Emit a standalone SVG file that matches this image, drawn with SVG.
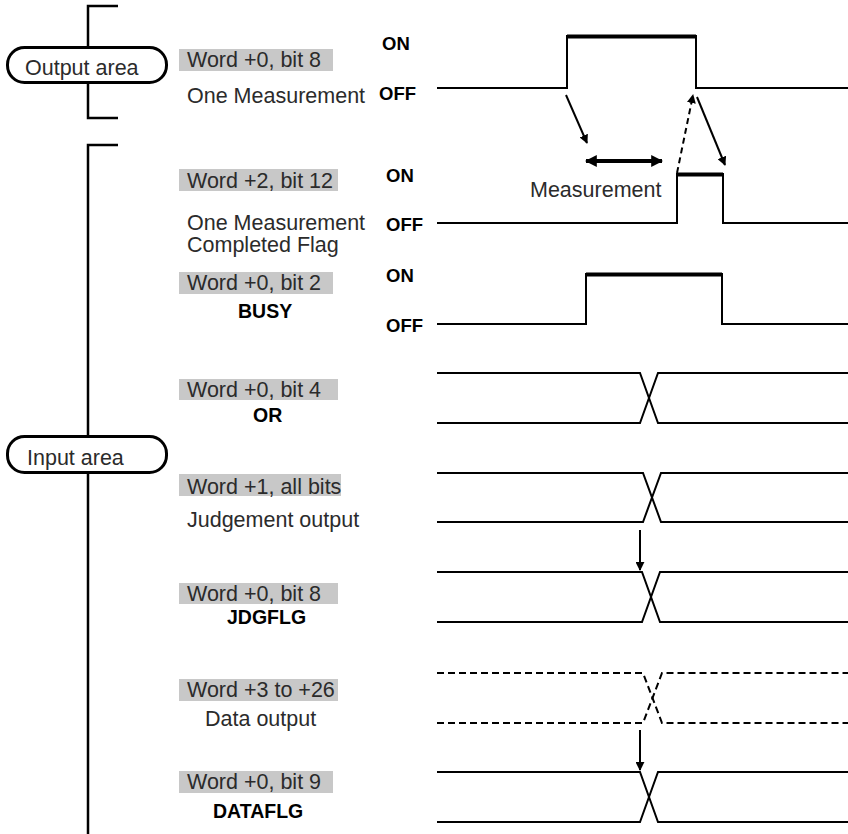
<svg xmlns="http://www.w3.org/2000/svg" width="848" height="834" viewBox="0 0 848 834">
<defs>
<marker id="ah" viewBox="0 0 10 10" refX="9" refY="5" markerWidth="9" markerHeight="9" markerUnits="userSpaceOnUse" orient="auto-start-reverse">
<path d="M0,0 L10,5 L0,10 Z" fill="#000"/>
</marker>
<marker id="ah2" viewBox="0 0 10 10" refX="9" refY="5" markerWidth="12" markerHeight="12" markerUnits="userSpaceOnUse" orient="auto-start-reverse">
<path d="M0,0 L10,5 L0,10 Z" fill="#000"/>
</marker>
</defs>
<style>
.lbl{font-family:"Liberation Sans",Arial,sans-serif;font-size:21.5px;fill:#2b2b2b}
.bold{font-family:"Liberation Sans",Arial,sans-serif;font-size:19.5px;font-weight:bold;fill:#000}
.st{font-family:"Liberation Sans",Arial,sans-serif;font-size:18.5px;font-weight:bold;fill:#000}
.box{fill:#c8c8c8}
.wave{fill:none;stroke:#000;stroke-width:2}
.top{stroke:#000;stroke-width:4}
.dash{fill:none;stroke:#000;stroke-width:2;stroke-dasharray:7,4}
.brk{fill:none;stroke:#000;stroke-width:2.5}
.pill{fill:#fff;stroke:#000;stroke-width:3}
.arr{fill:none;stroke:#000;stroke-width:2}
</style>
<rect width="848" height="834" fill="#fff"/>

<g id="output-bracket">
<path class="brk" d="M118,6 H88 V118 H118"/>
</g>
<g id="input-bracket">
<path class="brk" d="M118,145 H88 V834"/>
</g>
<g id="output-area">
<rect class="pill" x="7.5" y="47.5" width="159" height="35" rx="17"/>
<text class="lbl" x="25" y="75">Output area</text>
</g>
<g id="input-area">
<rect class="pill" x="7.5" y="436.5" width="159" height="36" rx="17"/>
<text class="lbl" x="27" y="465">Input area</text>
</g>

<g id="sig-one-measurement">
<rect class="box" x="179" y="49" width="154" height="22"/>
<text class="lbl" x="187" y="67">Word +0, bit 8</text>
<text class="lbl" x="187" y="103">One Measurement</text>
<text class="st" x="382" y="50">ON</text>
<text class="st" x="379" y="100">OFF</text>
<path class="wave" d="M437,88 H567 V36 H696 V88 H848"/>
<line class="top" x1="567" y1="36.5" x2="696" y2="36.5"/>
</g>

<g id="sig-completed">
<rect class="box" x="179" y="169" width="159" height="22"/>
<text class="lbl" x="187" y="188">Word +2, bit 12</text>
<text class="lbl" x="187" y="230">One Measurement</text>
<text class="lbl" x="187" y="252">Completed Flag</text>
<text class="st" x="386" y="182">ON</text>
<text class="st" x="386" y="231">OFF</text>
<path class="wave" d="M437,223 H677 V174 H723 V223 H848"/>
<line class="top" x1="677" y1="174.5" x2="723" y2="174.5"/>
<text class="lbl" x="530" y="197">Measurement</text>
</g>

<g id="sig-busy">
<rect class="box" x="179" y="272" width="154" height="22"/>
<text class="lbl" x="187" y="290">Word +0, bit 2</text>
<text class="bold" x="238" y="318">BUSY</text>
<text class="st" x="386" y="282">ON</text>
<text class="st" x="386" y="332">OFF</text>
<path class="wave" d="M437,324 H586 V274 H722 V324 H848"/>
<line class="top" x1="586" y1="274.5" x2="722" y2="274.5"/>
</g>

<g id="sig-or">
<rect class="box" x="179" y="379" width="159" height="21"/>
<text class="lbl" x="187" y="397">Word +0, bit 4</text>
<text class="bold" x="253" y="422">OR</text>
<path class="wave" d="M437,373 H640 L658,423 H848"/>
<path class="wave" d="M437,423 H640 L658,373 H848"/>
</g>

<g id="sig-judgement">
<rect class="box" x="179" y="474" width="162" height="22"/>
<text class="lbl" x="187" y="494">Word +1, all bits</text>
<text class="lbl" x="187" y="527">Judgement output</text>
<path class="wave" d="M437,473 H643 L661,522 H848"/>
<path class="wave" d="M437,522 H643 L661,473 H848"/>
</g>

<g id="sig-jdgflg">
<rect class="box" x="179" y="583" width="159" height="21"/>
<text class="lbl" x="187" y="601">Word +0, bit 8</text>
<text class="bold" x="227" y="624">JDGFLG</text>
<path class="wave" d="M437,572 H642 L660,622 H848"/>
<path class="wave" d="M437,622 H642 L660,572 H848"/>
</g>

<g id="sig-data">
<rect class="box" x="179" y="679" width="159" height="22"/>
<text class="lbl" x="187" y="697">Word +3 to +26</text>
<text class="lbl" x="205" y="726">Data output</text>
<path class="dash" d="M437,673 H643 L662,723 H848"/>
<path class="dash" d="M437,723 H643 L662,673 H848"/>
</g>

<g id="sig-dataflg">
<rect class="box" x="179" y="771" width="154" height="22"/>
<text class="lbl" x="187" y="789">Word +0, bit 9</text>
<text class="bold" x="213" y="818">DATAFLG</text>
<path class="wave" d="M437,772 H640 L658,822 H848"/>
<path class="wave" d="M437,822 H640 L658,772 H848"/>
</g>

<g id="connectors">
<line class="arr" x1="566" y1="95" x2="587" y2="143" marker-end="url(#ah)"/>
<line class="arr" style="stroke-width:4" x1="586" y1="161" x2="662" y2="161" marker-start="url(#ah2)" marker-end="url(#ah2)"/>
<line class="arr" style="stroke-dasharray:6,4" x1="677" y1="173" x2="693" y2="95" marker-end="url(#ah)"/>
<line class="arr" x1="697" y1="97" x2="725" y2="165" marker-end="url(#ah)"/>
<line class="arr" x1="640" y1="530" x2="640" y2="570" marker-end="url(#ah)"/>
<line class="arr" x1="640" y1="730" x2="640" y2="770" marker-end="url(#ah)"/>
</g>
</svg>
